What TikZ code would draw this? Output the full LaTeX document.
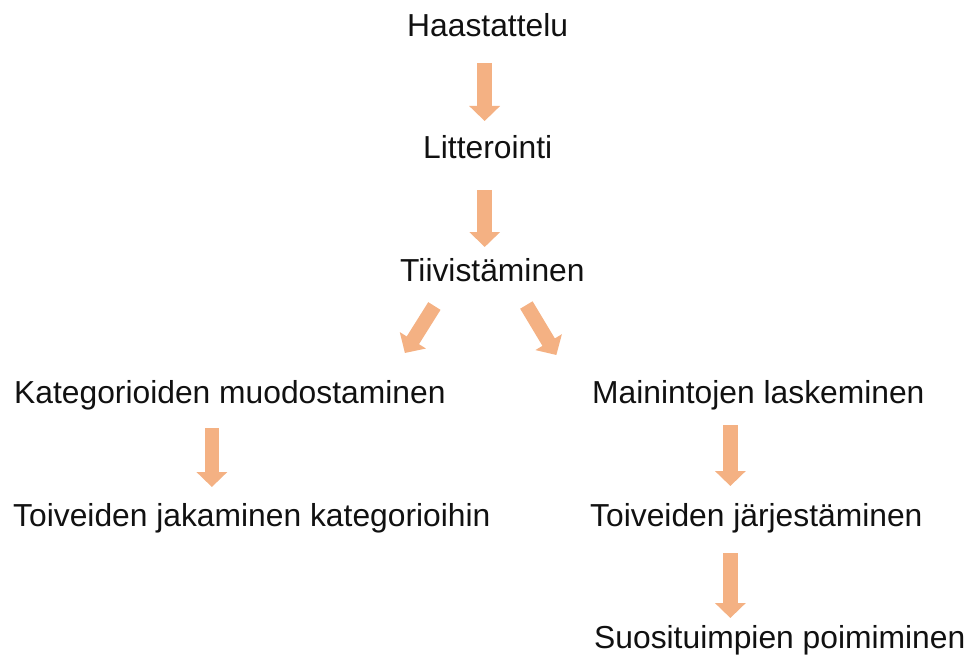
\documentclass[tikz,border=0pt]{standalone}
\usepackage{fontspec}
\setmainfont{Liberation Sans}
\usetikzlibrary{arrows.meta, calc}
\definecolor{peach}{HTML}{F4B183}
\definecolor{inkblack}{HTML}{111111}

\begin{document}
\begin{tikzpicture}[x=1pt, y=-1pt,
  stage/.style={anchor=base west, inner sep=0pt, text=inkblack, font=\fontsize{31.8}{36}\selectfont},
  flow/.style={peach, line width=14.5pt, -{Triangle[length=15pt, width=30pt]}}]

% Canvas
\useasboundingbox (0,0) rectangle (971,655);

% Main chain
\node[stage] (haa)  at (407,37)  {Haastattelu};
\node[stage] (lit)  at (423,159) {Litterointi};
\node[stage] (tiiv) at (400,281) {Tiivistäminen};

% Left branch
\node[stage] (kat) at (14,403) {Kategorioiden muodostaminen};
\node[stage] (jak) at (13,526) {Toiveiden jakaminen kategorioihin};

% Right branch
\node[stage] (main) at (592,403) {Mainintojen laskeminen};
\node[stage] (jar)  at (590,526) {Toiveiden järjestäminen};
\node[stage] (suo)  at (594,648) {Suosituimpien poimiminen};

% Straight-down arrows: x from the upper text, y from both baselines
\draw[flow] ($(haa.base)+(-3,26)$) -- ($(haa.base |- lit.base)+(-3,-38)$);
\draw[flow] ($(lit.base)+(-3,31)$) -- ($(lit.base |- tiiv.base)+(-3,-34)$);
\draw[flow] ($(kat.base)+(-18,25)$) -- ($(kat.base |- jak.base)+(-18,-39)$);
\draw[flow] ($(main.base)+(-28,22)$) -- ($(main.base |- jar.base)+(-28,-40)$);
\draw[flow] ($(jar.base)+(-26,27)$) -- ($(jar.base |- suo.base)+(-26,-30)$);

% Split after Tiivistäminen
\draw[flow] ($(tiiv.base)+(-58,25)$) -- ($(kat.base)+(175,-50)$);
\draw[flow] ($(tiiv.base)+(34,24)$) -- ($(main.base)+(-202,-48)$);

\end{tikzpicture}
\end{document}
